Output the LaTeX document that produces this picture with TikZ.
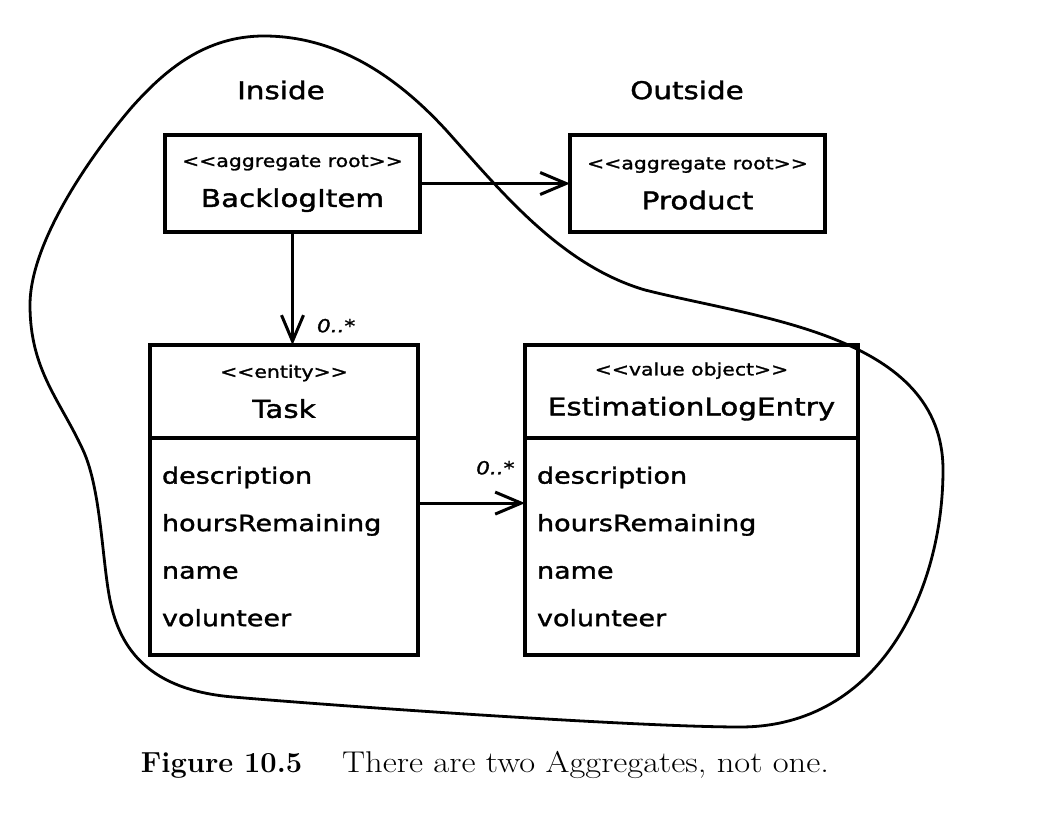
\documentclass[tikz,border=0pt]{standalone}
\usepackage{fontspec}
\usepackage{tikz}
\usetikzlibrary{arrows.meta, calc}

\newfontfamily\handfont[FakeStretch=1.2, FakeBold=1.5]{DejaVu Sans}
\newfontfamily\capserif[FakeStretch=1.15]{Latin Modern Roman}
\newcommand{\namefont}{\handfont\fontsize{24.5}{40}\selectfont}
\newcommand{\stereofont}{\handfont\fontsize{17}{20}\selectfont}
\newcommand{\attrfont}{\handfont\fontsize{22.5}{47.5}\selectfont}
\newcommand{\multfont}{\handfont\itshape\fontsize{18}{20}\selectfont}
\newcommand{\capfont}{\capserif\fontsize{30}{34}\selectfont}

\begin{document}
\begin{tikzpicture}[x=1pt, y=-1pt,
  classbox/.style={draw, line width=3.5pt, outer sep=0pt, align=center, font=\namefont, inner sep=0pt},
  attrbox/.style={draw, line width=3.5pt, outer sep=0pt, align=left, font=\attrfont, inner xsep=12pt, inner ysep=0pt},
  assoc/.style={line width=3pt, -{Straight Barb[length=26pt, width=22pt]}},
  mult/.style={font=\multfont, inner sep=1pt},
  heading/.style={font=\namefont},
  blob/.style={line width=2.8pt}]

\useasboundingbox (0,0) rectangle (1040,826);

\draw[blob] (264,36) .. controls (205,36) and (165,70) .. (132,107)
  .. controls (95,150) and (30,240) .. (30,305)
  .. controls (30,370) and (60,400) .. (83,450)
  .. controls (101,489) and (102,560) .. (110,600)
  .. controls (120,650) and (150,690) .. (233,697)
  .. controls (350,707) and (640,727) .. (740,727)
  .. controls (880,727) and (943,590) .. (943,470)
  .. controls (943,335) and (760,319) .. (645,290)
  .. controls (560,265) and (500,190) .. (446,130)
  .. controls (400,80) and (340,36) .. (264,36) -- cycle;

\node[heading] (inside) at (281,90) {Inside};
\node[heading] (outside) at (687,90) {Outside};

\node[classbox, minimum width=255pt, minimum height=97pt] (backlog) at (292.5,183.5)
  {{\stereofont <<aggregate root>>}\\ BacklogItem};
\node[classbox, minimum width=255pt, minimum height=97pt] (product) at (697.5,183.5)
  {{\stereofont <<aggregate root>>}\\ Product};

\node[classbox, minimum width=268pt, minimum height=93pt] (task) at (284,391.5)
  {{\stereofont <<entity>>}\\ Task};
\node[attrbox, text width=244pt, minimum height=217pt, anchor=north] (taskattr) at (task.south)
  {description\\ hoursRemaining\\ name\\ volunteer};

\node[classbox, minimum width=333pt, minimum height=93pt] (entry) at (691.5,391.5)
  {{\stereofont <<value object>>}\\ EstimationLogEntry};
\node[attrbox, text width=309pt, minimum height=217pt, anchor=north] (entryattr) at (entry.south)
  {description\\ hoursRemaining\\ name\\ volunteer};

\draw[assoc] (backlog.east) -- (product.west);
\draw[assoc] (backlog.south) -- (backlog.south |- task.north)
  node[mult, anchor=south west, xshift=22pt, yshift=10pt] {0..*};
\draw[assoc] ($(taskattr.north east)!0.3!(taskattr.south east)$)
  -- ($(entryattr.north west)!0.3!(entryattr.south west)$)
  node[mult, anchor=south east, xshift=-8pt, yshift=26pt] {0..*};

\node[font=\capfont] (caption) at (485,765)
  {{\rmfamily\fontsize{29}{34}\selectfont\textbf{Figure 10.5}}\hspace{40pt}There are two Aggregates, not one.};
\end{tikzpicture}
\end{document}
